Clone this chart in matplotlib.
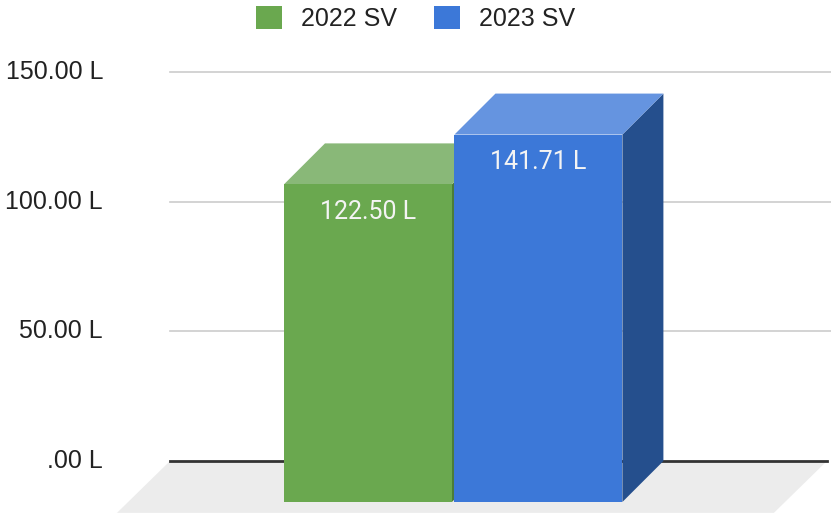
import matplotlib

matplotlib.use("Agg")
import matplotlib.pyplot as plt
from matplotlib.patches import Polygon, Patch

# data
series = ["2022 SV", "2023 SV"]
values = [122.50, 141.71]
tick_values = [0, 50, 100, 150]
tick_labels = [".00 L", "50.00 L", "100.00 L", "150.00 L"]

front_colors = ["#6aa84f", "#3c78d8"]
top_colors = ["#89b878", "#6594e0"]
side_colors = ["#4b7d38", "#254f8d"]

W, H = 831, 516
fig = plt.figure(figsize=(W / 100, H / 100), dpi=100)
ax = fig.add_axes([0, 0, 1, 1])
ax.set_xlim(-2.158, 2.716)
ax.set_ylim(-21.2, 177.8)
ax.axis("off")

bar_w = 0.985
dx, dy = 0.2405, 15.8  # bar depth (x in category units, y in value units)

# floor
fl_x0, fl_x1 = -1.161, 2.692
fl_dx, fl_dy = 0.311, 20.0
ax.add_patch(Polygon([(fl_x0, 0), (fl_x1, 0), (fl_x1 - fl_dx, -fl_dy), (fl_x0 - fl_dx, -fl_dy)],
                     closed=True, facecolor="#ececec", edgecolor="none", zorder=1))

# grid on back wall
for v in tick_values[1:]:
    ax.plot([fl_x0, 2.716], [v, v], color="#cccccc", lw=1.2, zorder=2)
ax.plot([fl_x0, fl_x1], [0, 0], color="#333333", lw=2, zorder=2)

for v, lab in zip(tick_values, tick_labels):
    ax.text(103 / W, v, lab, transform=ax.get_yaxis_transform(), ha="right", va="center",
            fontsize=18, family="Liberation Sans", color="#222222")

for i, (v, fc, tc, sc) in enumerate(zip(values, front_colors, top_colors, side_colors)):
    x0, x1 = i - bar_w / 2, i + bar_w / 2
    side = [(x1, -dy), (x1 + dx, 0), (x1 + dx, v), (x1, v - dy)]
    top = [(x0, v - dy), (x1, v - dy), (x1 + dx, v), (x0 + dx, v)]
    front = [(x0, -dy), (x1, -dy), (x1, v - dy), (x0, v - dy)]
    z = 3 + i * 3
    ax.add_patch(Polygon(side, closed=True, facecolor=sc, edgecolor="none", zorder=z))
    ax.add_patch(Polygon(top, closed=True, facecolor=tc, edgecolor="none", zorder=z + 1))
    ax.add_patch(Polygon(front, closed=True, facecolor=fc, edgecolor="none", zorder=z + 2))
    ax.text(i, v - dy - 10.5, f"{v:.2f} L", ha="center", va="center", fontsize=18,
            family="Roboto", color="#f4f4f4", zorder=20)

handles = [Patch(facecolor=c, edgecolor="none") for c in front_colors]
fig.legend(handles, series, loc="upper center", bbox_to_anchor=(0.5, 1.0), ncol=2,
           frameon=False, prop={"family": "Liberation Sans", "size": 18},
           handlelength=1.05, handleheight=1.05, handletextpad=0.75, columnspacing=1.5,
           borderpad=0.15, borderaxespad=0.1, labelcolor="#222222")

fig.savefig("out.png", dpi=100)
